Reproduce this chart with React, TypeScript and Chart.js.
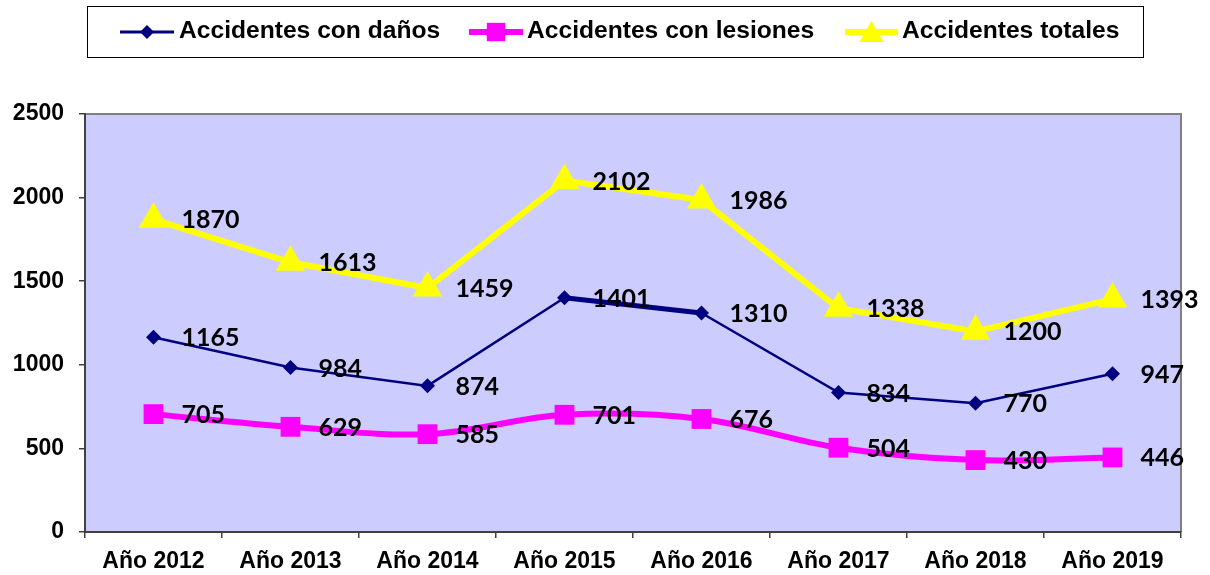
import React, { useEffect, useRef } from 'react';
import { Chart, registerables } from 'chart.js';

Chart.register(...registerables);

const categories = ['Año 2012', 'Año 2013', 'Año 2014', 'Año 2015', 'Año 2016', 'Año 2017', 'Año 2018', 'Año 2019'];
const danos = [1165, 984, 874, 1401, 1310, 834, 770, 947];
const lesiones = [705, 629, 585, 701, 676, 504, 430, 446];
const totales = [1870, 1613, 1459, 2102, 1986, 1338, 1200, 1393];
const seriesNames = ['Accidentes con daños', 'Accidentes con lesiones', 'Accidentes totales'];

const NAVY = '#000080';
const MAGENTA = '#FF00FF';
const YELLOW = '#FFFF00';

function drawMarker(ctx: CanvasRenderingContext2D, style: string, x: number, y: number, r: number, color: string) {
  ctx.save();
  ctx.fillStyle = color;
  ctx.beginPath();
  if (style === 'rectRot') {
    ctx.moveTo(x, y - r);
    ctx.lineTo(x + r, y);
    ctx.lineTo(x, y + r);
    ctx.lineTo(x - r, y);
  } else if (style === 'rect') {
    const s = Math.SQRT1_2 * r;
    ctx.rect(x - s, y - s, 2 * s, 2 * s);
  } else {
    ctx.moveTo(x, y - r);
    ctx.lineTo(x + r * Math.sin((2 * Math.PI) / 3), y - r * Math.cos((2 * Math.PI) / 3));
    ctx.lineTo(x + r * Math.sin((4 * Math.PI) / 3), y - r * Math.cos((4 * Math.PI) / 3));
  }
  ctx.closePath();
  ctx.fill();
  ctx.restore();
}

const plotBg = {
  id: 'plotBg',
  beforeDraw(chart: any) {
    const { ctx, chartArea: a } = chart;
    ctx.save();
    ctx.fillStyle = '#CCCCFF';
    ctx.fillRect(a.left, a.top, a.right - a.left, a.bottom - a.top);
    ctx.strokeStyle = '#808080';
    ctx.lineWidth = 2;
    ctx.beginPath();
    ctx.moveTo(a.left, a.top);
    ctx.lineTo(a.right, a.top);
    ctx.lineTo(a.right, a.bottom);
    ctx.stroke();
    ctx.restore();
  },
};

const legendBox = {
  id: 'legendBox',
  afterDraw(chart: any) {
    const ctx = chart.ctx as CanvasRenderingContext2D;
    ctx.save();
    ctx.strokeStyle = '#000';
    ctx.lineWidth = 1;
    ctx.strokeRect(87.5, 6.5, 1056, 51);
    const items = [
      { x1: 120, x2: 174, tx: 179, color: NAVY, style: 'rectRot', r: 7, lw: 3 },
      { x1: 469, x2: 523, tx: 527, color: MAGENTA, style: 'rect', r: 13, lw: 6 },
      { x1: 845, x2: 898, tx: 902, color: YELLOW, style: 'triangle', r: 14, lw: 6 },
    ];
    const y = 32;
    ctx.font = 'bold 23px "Liberation Sans", Arial, sans-serif';
    ctx.textBaseline = 'middle';
    items.forEach((it, i) => {
      ctx.strokeStyle = it.color;
      ctx.lineWidth = it.lw;
      ctx.beginPath();
      ctx.moveTo(it.x1, y);
      ctx.lineTo(it.x2, y);
      ctx.stroke();
      drawMarker(ctx, it.style, (it.x1 + it.x2) / 2, it.style === 'triangle' ? y + 3 : y, it.r, it.color);
      ctx.fillStyle = '#000';
      ctx.save();
      ctx.translate(it.tx, y);
      ctx.scale(1.07, 1);
      ctx.fillText(seriesNames[i], 0, 0);
      ctx.restore();
    });
    ctx.restore();
  },
};

const dataLabels = {
  id: 'dataLabels',
  afterDatasetsDraw(chart: any) {
    const ctx = chart.ctx as CanvasRenderingContext2D;
    ctx.save();
    ctx.font = 'bold 25px Lato, "Open Sans", sans-serif';
    ctx.fillStyle = '#000';
    ctx.textBaseline = 'middle';
    ctx.textAlign = 'left';
    chart.data.datasets.forEach((ds: any, di: number) => {
      const meta = chart.getDatasetMeta(di);
      meta.data.forEach((pt: any, i: number) => {
        ctx.fillText(String(ds.data[i]), pt.x + 28, pt.y + 1);
      });
    });
    ctx.restore();
  },
};

export default function App() {
  const ref = useRef<HTMLCanvasElement>(null);
  useEffect(() => {
    const chart = new Chart(ref.current as HTMLCanvasElement, {
      type: 'line',
      data: {
        labels: categories,
        datasets: [
          {
            label: seriesNames[0],
            data: danos,
            borderColor: NAVY,
            backgroundColor: NAVY,
            borderWidth: 2.5,
            pointStyle: 'rectRot',
            pointRadius: 7.5,
            pointBorderWidth: 0,
            tension: 0,
            segment: { borderWidth: (c: any) => (c.p0DataIndex === 3 ? 5 : 2.5) },
          },
          {
            label: seriesNames[1],
            data: lesiones,
            borderColor: MAGENTA,
            backgroundColor: MAGENTA,
            borderWidth: 6,
            pointStyle: 'rect',
            pointRadius: 14,
            pointBorderWidth: 0,
            tension: 0.35,
          },
          {
            label: seriesNames[2],
            data: totales,
            borderColor: YELLOW,
            backgroundColor: YELLOW,
            borderWidth: 6,
            pointStyle: 'triangle',
            pointRadius: 17,
            pointBorderWidth: 0,
            tension: 0,
          },
        ],
      },
      options: {
        animation: false,
        responsive: false,
        layout: { padding: { top: 114, right: 29, left: 0, bottom: 0 } },
        plugins: { legend: { display: false }, tooltip: { enabled: false } },
        scales: {
          x: {
            offset: true,
            afterFit: (s: any) => { s.height = 43; },
            grid: { offset: true, drawOnChartArea: false, drawTicks: true, tickLength: 6, color: '#404040', lineWidth: 1.5 },
            border: { color: '#404040', width: 2 },
            ticks: { color: '#000', padding: 10, font: { family: '"Liberation Sans", Arial, sans-serif', size: 23, weight: 'bold' }, maxRotation: 0 },
          },
          y: {
            min: 0,
            max: 2500,
            afterFit: (s: any) => { s.width = 85; },
            grid: { drawOnChartArea: false, drawTicks: true, tickLength: 6, color: '#404040', lineWidth: 1.5 },
            border: { color: '#404040', width: 2 },
            ticks: {
              stepSize: 500,
              color: '#000',
              padding: 15,
              font: { family: '"Liberation Sans", Arial, sans-serif', size: 23, weight: 'bold' },
              callback: (v: any) => String(v),
            },
          },
        },
      },
      plugins: [plotBg, legendBox, dataLabels],
    } as any);
    return () => chart.destroy();
  }, []);
  return (
    <div style={{ position: 'fixed', left: 0, top: 0, width: 1210, height: 575, background: '#fff' }}>
      <canvas ref={ref} width={1210} height={575} style={{ width: 1210, height: 575 }} />
    </div>
  );
}
